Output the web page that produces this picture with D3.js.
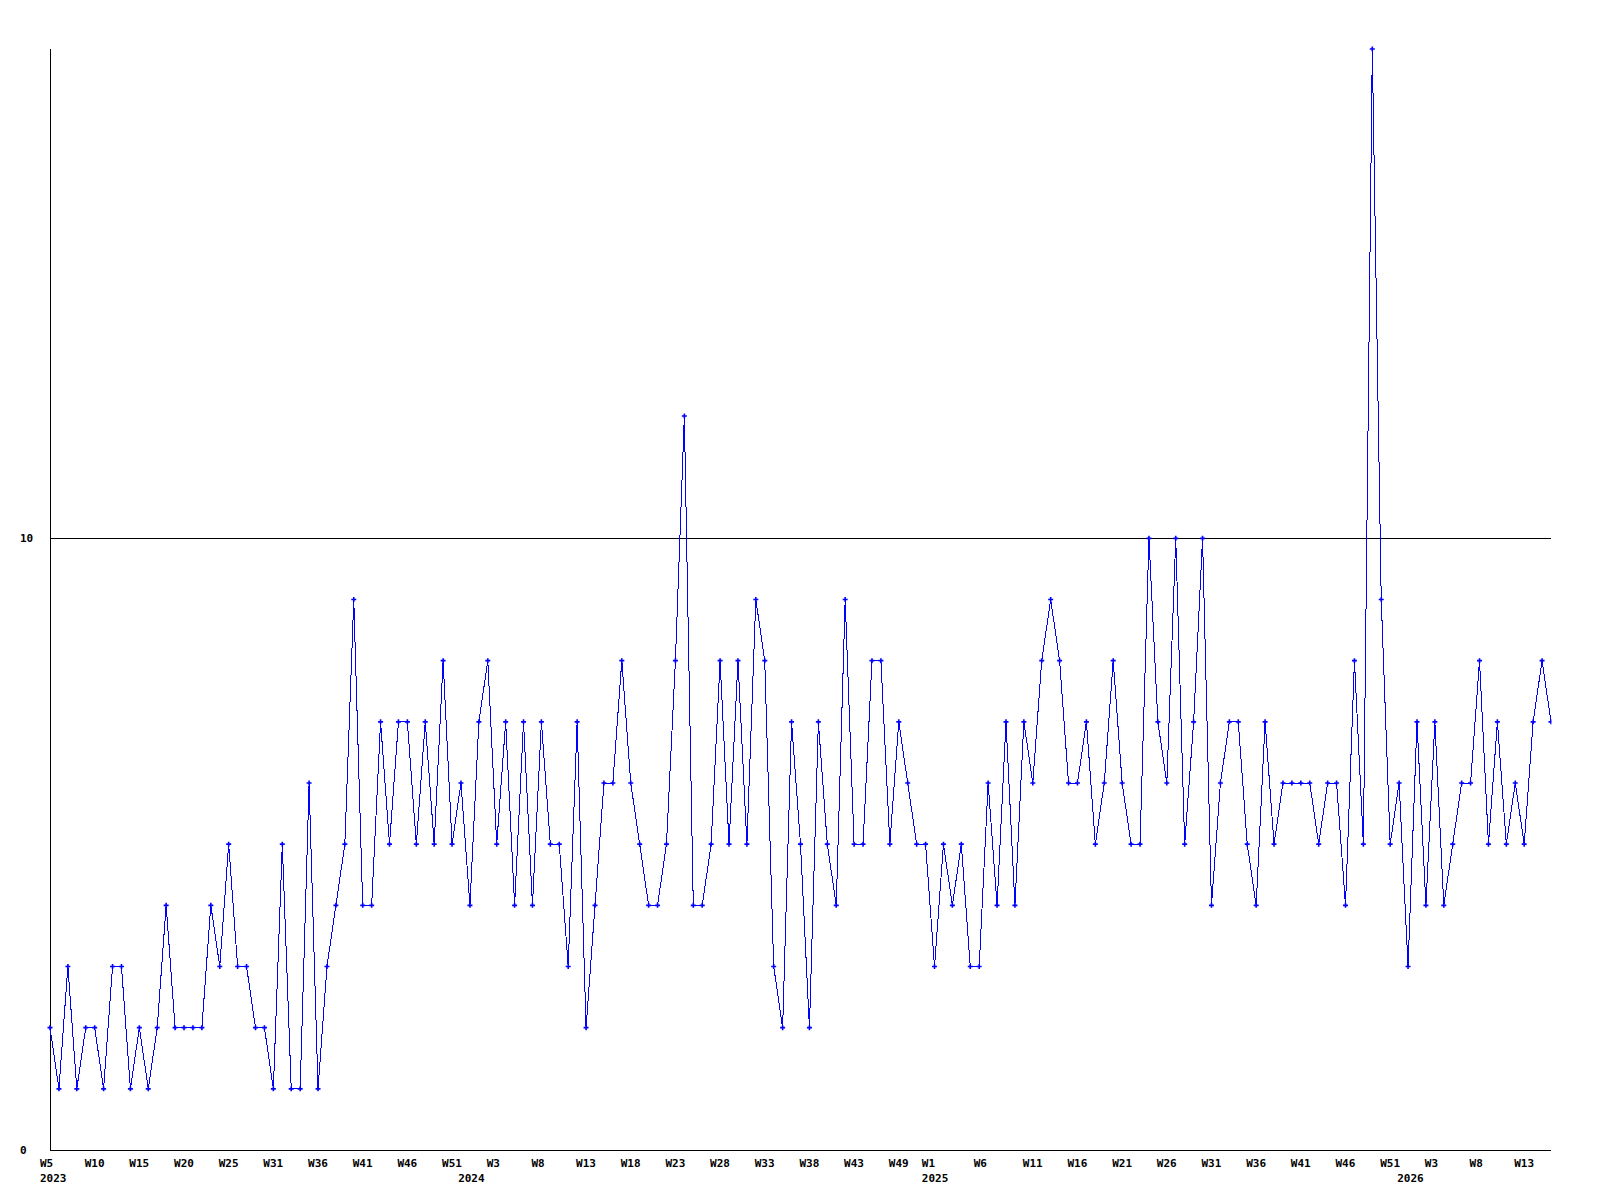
<!DOCTYPE html>
<html>
<head>
<meta charset="utf-8">
<script src="https://cdn.jsdelivr.net/npm/d3@7"></script>
<style>
  html, body { margin: 0; padding: 0; background: #fff; }
  svg { display: block; }
  text { font-family: "DejaVu Sans Mono", "Liberation Mono", monospace; font-weight: bold; font-size: 11px; fill: #000; }
</style>
</head>
<body>
<svg id="chart" width="1600" height="1200"></svg>
<script>
// Weekly values, W5 2023 .. W17 2026 (one point per week)
const values = [
  2,1,3,1,2,2,1,3,3,1,2,1,2,4,2,2,2,2,4,3,5,
  3,3,2,2,1,5,1,1,6,1,3,4,5,9,4,4,7,5,7,7,5,7,
  5,8,5,6,4,7,8,5,7,4,7,4,7,5,5,3,7,2,4,6,6,
  8,6,5,4,4,5,8,12,4,4,5,8,5,8,5,9,8,3,2,7,5,
  2,7,5,4,9,5,5,8,8,5,7,6,5,5,3,5,4,5,3,3,6,4,
  7,4,7,6,8,9,8,6,6,7,5,6,8,6,5,5,10,7,6,10,5,
  7,10,4,6,7,7,5,4,7,5,6,6,6,6,5,6,6,4,8,5,18,
  9,5,6,3,7,4,7,4,5,6,6,8,5,7,5,6,5,7,8,7
];

// Week tick labels and their position (in week index along the series)
const weekLabels = ["W5","W10","W15","W20","W25","W31","W36","W41","W46","W51",
  "W3","W8","W13","W18","W23","W28","W33","W38","W43","W49",
  "W1","W6","W11","W16","W21","W26","W31","W36","W41","W46","W51",
  "W3","W8","W13"];
const weekLabelPos = [0,5,10,15,20,25,30,35,40,45,
  50,55,60,65,70,75,80,85,90,95,
  98.7,104.5,110,115,120,125,130,135,140,145,150,
  155,160,165];

const yearLabels = ["2023","2024","2025","2026"];
const yearLabelPos = [0, 46.8, 98.7, 151.9];

const yTicks = [0, 10];

const svg = d3.select("#chart");
const x = d3.scaleLinear().domain([0, values.length - 1]).range([50, 1551]);
const y = d3.scaleLinear().domain([0, 18]).range([1150, 49]);

// Grid line at 10
svg.selectAll("line.grid").data(yTicks.filter(t => t > 0)).join("line")
  .attr("class", "grid")
  .attr("x1", x(0)).attr("x2", x(values.length - 1))
  .attr("y1", d => Math.round(y(d)) + 0.5).attr("y2", d => Math.round(y(d)) + 0.5)
  .attr("stroke", "#000").attr("stroke-width", 1).attr("shape-rendering", "crispEdges");

// Axes lines
svg.append("line")
  .attr("x1", x(0) + 0.5).attr("x2", x(0) + 0.5)
  .attr("y1", y(18)).attr("y2", y(0))
  .attr("stroke", "#000").attr("shape-rendering", "crispEdges");
svg.append("line")
  .attr("x1", x(0)).attr("x2", x(values.length - 1))
  .attr("y1", Math.round(y(0)) + 0.5).attr("y2", Math.round(y(0)) + 0.5)
  .attr("stroke", "#000").attr("shape-rendering", "crispEdges");

// Y tick labels
svg.selectAll("text.ylab").data(yTicks).join("text")
  .attr("class", "ylab")
  .attr("x", 20)
  .attr("y", d => y(d) + 4)
  .text(d => d);

// X week labels
svg.selectAll("text.wlab").data(weekLabels).join("text")
  .attr("class", "wlab")
  .attr("x", (d, i) => x(weekLabelPos[i]) - 10)
  .attr("y", 1167)
  .text(d => d);

// Year labels
svg.selectAll("text.ylabel").data(yearLabels).join("text")
  .attr("class", "ylabel")
  .attr("x", (d, i) => x(yearLabelPos[i]) - 10)
  .attr("y", 1182)
  .text(d => d);

// Clip for plot
svg.append("clipPath").attr("id", "plotclip")
  .append("rect").attr("x", 45).attr("y", 40).attr("width", 1551 - 45 + 0.5).attr("height", 1120);

const g = svg.append("g").attr("clip-path", "url(#plotclip)");

const line = d3.line().x((d, i) => x(i)).y(d => y(d));
g.append("path")
  .datum(values)
  .attr("d", line)
  .attr("fill", "none")
  .attr("stroke", "#0000ff")
  .attr("stroke-width", 1)
  .attr("shape-rendering", "crispEdges");

g.selectAll("path.mk").data(values).join("path")
  .attr("class", "mk")
  .attr("transform", (d, i) => `translate(${x(i)},${y(d)})`)
  .attr("d", "M-2.5,0H2.5M0,-2.5V2.5")
  .attr("stroke", "#0000ff")
  .attr("stroke-width", 1.6)
  .attr("fill", "none");
</script>
</body>
</html>
